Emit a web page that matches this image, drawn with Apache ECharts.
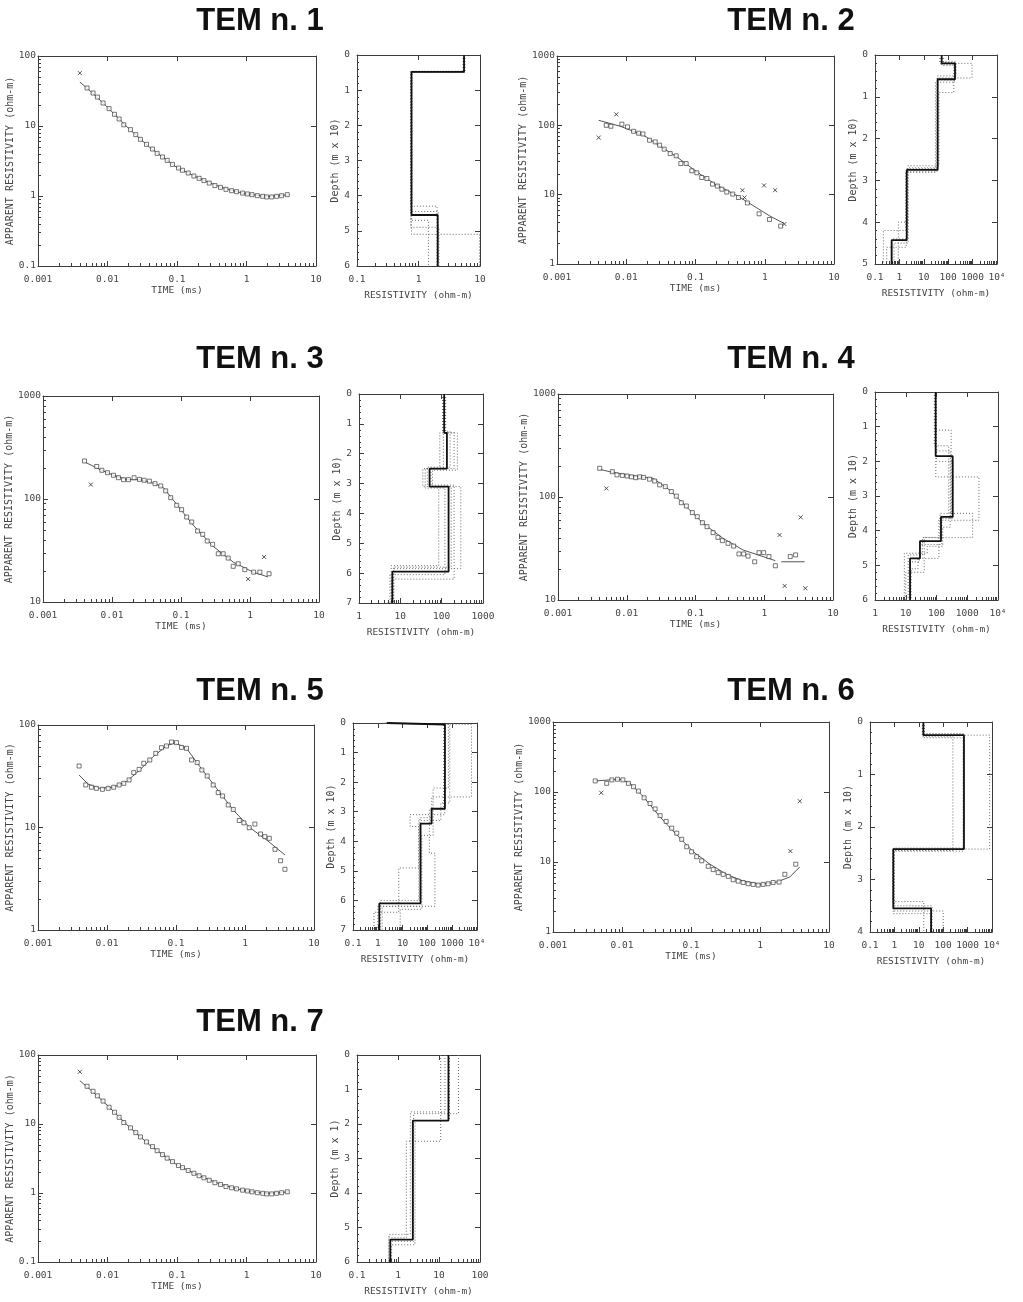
<!DOCTYPE html>
<html><head><meta charset="utf-8">
<script src="https://cdn.jsdelivr.net/npm/echarts@6/dist/echarts.min.js"></script>
<style>html,body{margin:0;padding:0;background:#fff}#c{width:1023px;height:1302px}</style>
</head><body><div id="c"></div>
<script>
// ---------------- DATA ----------------
const titles = ['TEM n. 1','TEM n. 2','TEM n. 3','TEM n. 4','TEM n. 5','TEM n. 6','TEM n. 7'];
const timeTicks = [0.001, 10];
const rhoAxisRanges = [[0.1,100],[1,1000],[10,1000],[10,1000],[1,100],[1,1000],[0.1,100]];
const modelAxisRanges = [[0.1,10],[0.1,10000],[1,1000],[1,10000],[0.1,10000],[0.1,10000],[0.1,100]];
const depthMax = [6,5,7,6,7,4,6];
const depthNames = ['Depth (m x 10)','Depth (m x 10)','Depth (m x 10)','Depth (m x 10)','Depth (m x 10)','Depth (m x 10)','Depth (m x 1)'];

// TEM 1
const t1 = [0.00508,0.0062,0.00716,0.00863,0.01054,0.0126,0.0147,0.01714,0.0214,0.0255,0.0298,0.0364,0.0444,0.0518,0.0618,0.0722,0.0861,0.105,0.120,0.145,0.175,0.208,0.244,0.291,0.351,0.423,0.506,0.610,0.720,0.879,1.03,1.20,1.43,1.71,1.95,2.30,2.71,3.20,3.86];
const r1 = [34.9,29.6,25.9,21.3,17.7,14.7,12.6,10.4,8.87,7.52,6.45,5.47,4.69,4.07,3.61,3.23,2.83,2.51,2.33,2.13,1.93,1.79,1.66,1.53,1.41,1.33,1.245,1.19,1.153,1.10,1.07,1.045,1.01,0.99,0.97,0.97,0.99,1.01,1.045];
const xt1 = [0.004]; const xr1 = [57];
const ct1 = [0.004,0.006,0.01,0.02,0.04,0.07,0.1,0.2,0.4,0.7,1,2,4];
const cr1 = [42.5,30,18.5,9.3,5.0,3.3,2.55,1.82,1.37,1.16,1.07,0.98,1.04];
const best1Rho = [5.5,0.77,2.05]; const best1Dep = [0.48,4.55];
const eq1 = [[[5.4,0.75,2.0],[0.46,4.3]],[[5.7,0.78,2.1],[0.5,4.45]],[[5.5,0.76,1.45],[0.49,4.7]],[[5.5,0.77,9.8],[0.48,5.1]],[[5.3,0.74,2.15],[0.47,4.9]]];

// TEM 2
const t2 = [0.00515,0.00601,0.00865,0.01044,0.01276,0.0151,0.0174,0.0217,0.0262,0.0303,0.0353,0.0431,0.0526,0.0614,0.0733,0.0885,0.1045,0.123,0.146,0.176,0.207,0.240,0.283,0.345,0.417,0.562,0.828,1.17,1.70];
const r2 = [100,97,104,95,82,77,75,61,57.7,51.7,45.3,39.2,36.3,28.1,28.1,22.1,20.7,17.7,17.1,14.2,13.3,12.0,10.9,10.2,9.1,7.6,5.3,4.39,3.52];
const xt2 = [0.004,0.00718,0.476,0.51,0.977,1.41,1.92]; const xr2 = [66.6,144,11.6,9.1,13.6,11.6,3.77];
const ct2 = [0.004,0.0082,0.0178,0.0309,0.0538,0.1045,0.203,0.394,0.726,1.19,1.90];
const cr2 = [118,97,72,50,35,21.3,13.7,9.75,6.68,4.91,3.85];
const best2Rho = [54,190,37,2.0,0.48]; const best2Dep = [0.2,0.58,2.75,4.43];
const eq2 = [[[60,200,38,2.1,0.5],[0.15,0.6,2.7,4.4]],[[45,950,35,1.9,0.3],[0.2,0.55,2.8,4.6]],[[55,170,42,2.2,0.9],[0.25,0.9,2.65,4.0]],[[50,180,30,1.8,0.22],[0.22,0.65,2.8,4.2]],[[65,210,36,2.3,0.6],[0.18,0.5,2.72,4.5]]];

// TEM 3
const t3 = [0.004,0.006,0.00713,0.0086,0.0105,0.0124,0.0147,0.0173,0.0209,0.025,0.0292,0.0348,0.042,0.0508,0.060,0.0709,0.0866,0.102,0.121,0.143,0.174,0.206,0.240,0.287,0.347,0.409,0.483,0.571,0.674,0.841,1.13,1.39,1.89];
const r3 = [234,207,190,180,170,161,154,154,161,155,152,149,141,134,120,103,86.9,78.8,66.8,59.8,48.9,45.4,39.1,36.3,29.4,29.4,26.7,22.2,23.5,20.6,19.5,19.5,18.8];
const xt3 = [0.00494,0.94,1.60]; const xr3 = [138,16.7,27.4];
const ct3 = [0.004,0.00675,0.0105,0.0164,0.0255,0.042,0.0555,0.0866,0.151,0.293,0.571,1.11,1.83];
const cr3 = [229,193,170,154,154,141,129,88.7,55.5,34.7,24.4,19.5,17.5];
const best3Rho = [115,134,51,147,6.4]; const best3Dep = [1.3,2.5,3.1,5.95];
const eq3 = [[[110,90,35,85,6.0],[1.3,2.5,3.1,5.75]],[[120,240,60,290,7.0],[1.3,2.55,3.1,5.85]],[[105,160,45,200,6.2],[1.25,2.45,3.05,6.2]],[[125,110,40,120,5.6],[1.35,2.5,3.15,6.05]],[[115,200,55,170,6.8],[1.3,2.5,3.1,5.8]]];

// TEM 4
const t4 = [0.00404,0.00617,0.0072,0.00863,0.0101,0.0117,0.0135,0.0154,0.0176,0.0215,0.0255,0.0301,0.0364,0.0445,0.0526,0.0622,0.0736,0.090,0.106,0.126,0.147,0.180,0.212,0.246,0.297,0.359,0.429,0.502,0.581,0.726,0.839,0.982,1.17,1.45,2.39,2.86];
const r4 = [190,176,164,162,160,157,154,157,155,149,143,131,126,113,102,88,81.8,70.5,64.4,56.3,51.5,45.1,40.6,37.7,35.5,33.4,28.0,28.0,26.7,23.5,28.8,28.8,26.4,21.5,26.4,27.4];
const xt4 = [0.00505,1.67,1.98,3.39,3.96]; const xr4 = [121,42.8,13.7,63.5,13.0];
const ct4 = [0.004,0.00565,0.00883,0.0154,0.0241,0.042,0.0736,0.129,0.251,0.491,0.959,1.45];
const cr4 = [186,176,166,157,152,117,80.5,55.5,39.7,30.6,26.4,24.1];
const ct4b = [1.77,3.87]; const cr4b = [23.5,23.5];
const best4Rho = [94,336,140,29,13.8]; const best4Dep = [1.85,3.6,4.3,4.8];
const eq4 = [[[90,300,130,35,12],[1.1,3.5,4.2,4.7]],[[95,2400,150,28,14],[2.45,3.7,4.4,4.9]],[[85,250,1500,40,10],[1.55,3.5,4.2,5.2]],[[100,350,120,25,15],[2.0,3.65,4.8,5.1]],[[92,280,160,50,9],[1.7,3.9,4.45,4.65]]];

// TEM 5
const t5 = [0.00394,0.00492,0.00594,0.00702,0.00857,0.0104,0.0125,0.015,0.0175,0.0209,0.0244,0.0292,0.0341,0.0417,0.0509,0.0616,0.0728,0.0861,0.1017,0.120,0.142,0.168,0.203,0.237,0.283,0.346,0.409,0.473,0.572,0.676,0.826,0.965,1.15,1.39,1.68,1.94,2.25,2.72,3.28,3.79];
const r5 = [39.8,26.0,24.7,24.1,23.6,24.1,24.7,26.0,27.0,29.1,34.3,36.9,42.3,45.6,52.9,60.1,62.4,68.2,67.3,60.5,59.2,45.6,43.0,36.4,31.8,26.0,21.9,20.3,16.6,15.0,11.7,11.1,9.95,10.8,8.64,8.14,7.84,6.12,4.74,3.91];
const xt5 = []; const xr5 = [];
const ct5 = [0.00394,0.00532,0.00786,0.0122,0.0191,0.0299,0.0466,0.0728,0.0961,0.142,0.222,0.387,0.676,1.18,2.06,3.79];
const cr5 = [32.5,26.5,24.1,24.7,28.0,36.4,49.1,62.4,67.3,59.2,39.2,24.1,14.8,9.95,7.55,5.40];
const best5Rho = [2.3,510,148,53,1.15]; const best5Dep = [0.05,2.9,3.4,6.1];
const eq5 = [[[3,6000,150,50,1.0],[0.05,2.5,3.2,6.2]],[[1.5,800,350,45,1.3],[0.04,2.7,3.3,6.0]],[[2,500,20,45,7,0.7],[0.06,3.1,3.5,4.9,6.4]],[[2.5,700,170,60,8],[0.05,2.2,3.8,6.3]],[[1.8,450,120,200,1.5],[0.05,2.9,4.4,6.2]]];

// TEM 6
const t6 = [0.00409,0.0060,0.00713,0.0086,0.0103,0.0124,0.0147,0.0173,0.0209,0.0255,0.0302,0.0357,0.0436,0.0525,0.0621,0.0733,0.0866,0.102,0.121,0.143,0.178,0.210,0.248,0.293,0.347,0.409,0.483,0.571,0.674,0.797,0.94,1.11,1.31,1.55,1.89,2.29,3.30];
const r6 = [144,133,149,152,149,133,119,103,82.6,68.4,57.3,45.9,38.0,30.4,25.8,21.1,16.5,14.0,11.9,10.4,8.69,7.78,7.05,6.67,6.23,5.58,5.33,5.10,4.89,4.79,4.68,4.79,4.89,5.10,5.17,6.67,9.30];
const xt6 = [0.0050,2.76,3.77]; const xr6 = [97.5,14.3,73.9];
const ct6 = [0.00409,0.00675,0.0094,0.0131,0.0205,0.0357,0.0621,0.108,0.188,0.328,0.571,0.995,1.73,2.70,3.77];
const cr6 = [144,149,152,133,85.3,43.9,24.4,14.0,9.30,6.67,5.33,4.79,5.17,6.10,8.51];
const best6Rho = [15.4,710,0.9,32]; const best6Dep = [0.25,2.42,3.55];
const eq6 = [[[16,8000,0.95,100],[0.25,2.42,3.6]],[[14,250,0.85,16],[0.28,2.45,3.42]],[[15,700,0.9,30],[0.22,2.4,3.65]],[[17,650,1.0,35],[0.3,2.46,3.5]]];

// TEM 7
const t7 = [0.00508,0.0062,0.00716,0.00863,0.01054,0.0126,0.0147,0.01714,0.0214,0.0255,0.0298,0.0364,0.0444,0.0518,0.0618,0.0722,0.0861,0.105,0.120,0.145,0.175,0.208,0.244,0.291,0.351,0.423,0.506,0.610,0.720,0.879,1.03,1.20,1.43,1.71,1.95,2.30,2.71,3.20,3.86];
const r7 = [35.2,29.8,25.6,21.5,17.5,14.8,12.5,10.5,8.8,7.5,6.5,5.5,4.7,4.1,3.6,3.2,2.85,2.5,2.33,2.12,1.93,1.78,1.66,1.53,1.41,1.33,1.24,1.19,1.15,1.10,1.07,1.04,1.01,0.99,0.97,0.97,0.99,1.01,1.04];
const xt7 = [0.004]; const xr7 = [57];
const ct7 = [0.004,0.006,0.01,0.02,0.04,0.07,0.1,0.2,0.4,0.7,1,2,4];
const cr7 = [42.5,30,18.5,9.3,5.0,3.3,2.55,1.82,1.37,1.16,1.07,0.98,1.04];
const best7Rho = [17,2.3,0.65]; const best7Dep = [1.9,5.35];
const eq7 = [[[14,2.0,0.6],[1.65,5.2]],[[30,2.4,0.65],[1.7,5.4]],[[11,1.6,0.6],[2.5,5.3]],[[18,2.6,0.7],[1.9,5.5]]];

// ---------------- LAYOUT ----------------
const boxL = [[38,56,278,210],[557,56,277,208],[43,396,276,206],[558,394,275,206],[38,725,276,205],[553,722,276,210],[38,1055,278,207]];
const boxR = [[357,55,123,211],[875,55,122,209],[359,394,124,209],[875,392,123,208],[353,723,124,207],[870,722,122,210],[357,1055,123,207]];
const titlePos = [[260,21],[791,21],[260,359],[791,359],[260,691],[791,691],[260,1022]];

const FONT = '"DejaVu Sans Mono", monospace';
const AX = '#3c3c3c', LBL = '#454545', INK = '#2a2a2a';

const option = {animation:false, backgroundColor:'#ffffff', grid:[], xAxis:[], yAxis:[], series:[], graphic:[]};

function minorVals(min,max){
  const out=[];
  for(let e=Math.round(Math.log10(min)); e<Math.round(Math.log10(max)); e++){
    for(let m=2;m<=9;m++) out.push(+(m*Math.pow(10,e)).toPrecision(3));
  }
  return out;
}
function fmtLog(v){
  if (v>=9999) return '10\u2074';
  if (v<1) return String(+(+v).toPrecision(1));
  return String(Math.round(v));
}
function addGrid(b){ option.grid.push({left:b[0], top:b[1], width:b[2], height:b[3], containLabel:false, outerBoundsMode:'none'}); return option.grid.length-1; }
function ax(gi,type,min,max,pos,extra){
  const a = {type, gridIndex:gi, min, max, position:pos,
    axisLine:{show:true,onZero:false,lineStyle:{color:AX,width:1}},
    axisTick:{show:true,inside:true,length:5,lineStyle:{color:AX,width:1}},
    axisLabel:{show:false}, splitLine:{show:false}, minorTick:{show:false}, minorSplitLine:{show:false}};
  if (type==='log') a.logBase=10;
  return Object.assign(a, extra||{});
}
function lab(margin, fmt){ return {show:true, fontFamily:FONT, fontSize:9.5, color:LBL, margin, formatter:fmt, showMinLabel:true, showMaxLabel:true, hideOverlap:false}; }
const nameStyle = {fontFamily:FONT, fontSize:9.5, color:LBL};
const nameStyleY = {fontFamily:FONT, fontSize:10, color:LBL};
const minorTickAx = (vals)=>({axisLine:{show:false,onZero:false}, axisTick:{show:true,inside:true,length:3,lineStyle:{color:AX,width:1},customValues:vals}});

function leftPanel(k, t, r, xt, xr, ct, cr, extraCurves){
  const gi = addGrid(boxL[k]);
  const yr = rhoAxisRanges[k];
  const xi = option.xAxis.length;
  option.xAxis.push(ax(gi,'log',timeTicks[0],timeTicks[1],'bottom',{name:'TIME (ms)',nameLocation:'middle',nameGap:19,nameTextStyle:nameStyle,axisLabel:lab(9,fmtLog)}));
  option.xAxis.push(ax(gi,'log',timeTicks[0],timeTicks[1],'top'));
  option.xAxis.push(ax(gi,'log',timeTicks[0],timeTicks[1],'bottom',minorTickAx(minorVals(timeTicks[0],timeTicks[1]))));
  const yi = option.yAxis.length;
  option.yAxis.push(ax(gi,'log',yr[0],yr[1],'left',{name:'APPARENT RESISTIVITY (ohm-m)',nameLocation:'middle',nameGap:20,nameTextStyle:nameStyleY,axisLabel:lab(2,fmtLog)}));
  option.yAxis.push(ax(gi,'log',yr[0],yr[1],'right'));
  option.yAxis.push(ax(gi,'log',yr[0],yr[1],'left',minorTickAx(minorVals(yr[0],yr[1]))));
  const curves = [[ct,cr]].concat(extraCurves||[]);
  curves.forEach(c=>{
    option.series.push({type:'line', xAxisIndex:xi, yAxisIndex:yi, data:c[0].map((v,i)=>[v,c[1][i]]), showSymbol:false, symbol:'none', silent:true, lineStyle:{color:INK,width:0.8}, z:2});
  });
  option.series.push({type:'scatter', xAxisIndex:xi, yAxisIndex:yi, data:t.map((v,i)=>[v,r[i]]), symbol:'rect', symbolSize:4, silent:true, itemStyle:{color:'#ffffff',borderColor:INK,borderWidth:0.8}, z:3});
  if (xt.length) option.series.push({type:'scatter', xAxisIndex:xi, yAxisIndex:yi, data:xt.map((v,i)=>[v,xr[i]]), symbol:'path://M0,0L10,10M10,0L0,10', symbolSize:4, silent:true, itemStyle:{color:'none',borderColor:INK,borderWidth:1}, z:3});
}
function steps(rho, dep, maxD){
  const pts=[]; let top=0;
  rho.forEach((v,i)=>{ const bot = i<dep.length ? dep[i] : maxD; pts.push([v,top],[v,bot]); top=bot; });
  return pts;
}
function rightPanel(k, bestRho, bestDep, eqs){
  const gi = addGrid(boxR[k]);
  const xr = modelAxisRanges[k], dm = depthMax[k];
  const xi = option.xAxis.length;
  option.xAxis.push(ax(gi,'log',xr[0],xr[1],'bottom',{name:'RESISTIVITY (ohm-m)',nameLocation:'middle',nameGap:25,nameTextStyle:nameStyle,axisLabel:lab(9,fmtLog)}));
  option.xAxis.push(ax(gi,'log',xr[0],xr[1],'top'));
  option.xAxis.push(ax(gi,'log',xr[0],xr[1],'bottom',minorTickAx(minorVals(xr[0],xr[1]))));
  const yi = option.yAxis.length;
  option.yAxis.push(ax(gi,'value',0,dm,'left',{inverse:true,interval:1,name:depthNames[k],nameLocation:'middle',nameGap:15,nameTextStyle:nameStyleY,axisLabel:lab(7),minorTick:{show:true,splitNumber:5,length:2,lineStyle:{color:AX}}}));
  option.yAxis.push(ax(gi,'value',0,dm,'right',{inverse:true,interval:1}));
  eqs.forEach(m=>{
    option.series.push({type:'line', xAxisIndex:xi, yAxisIndex:yi, data:steps(m[0],m[1],dm), showSymbol:false, symbol:'none', silent:true, lineStyle:{color:'#6a6a6a',width:1,type:[1,2]}, z:2});
  });
  option.series.push({type:'line', xAxisIndex:xi, yAxisIndex:yi, data:steps(bestRho,bestDep,dm), showSymbol:false, symbol:'none', silent:true, lineStyle:{color:'#111',width:1.8}, z:3});
}

leftPanel(0,t1,r1,xt1,xr1,ct1,cr1); rightPanel(0,best1Rho,best1Dep,eq1);
leftPanel(1,t2,r2,xt2,xr2,ct2,cr2); rightPanel(1,best2Rho,best2Dep,eq2);
leftPanel(2,t3,r3,xt3,xr3,ct3,cr3); rightPanel(2,best3Rho,best3Dep,eq3);
leftPanel(3,t4,r4,xt4,xr4,ct4,cr4,[[ct4b,cr4b]]); rightPanel(3,best4Rho,best4Dep,eq4);
leftPanel(4,t5,r5,xt5,xr5,ct5,cr5); rightPanel(4,best5Rho,best5Dep,eq5);
leftPanel(5,t6,r6,xt6,xr6,ct6,cr6); rightPanel(5,best6Rho,best6Dep,eq6);
leftPanel(6,t7,r7,xt7,xr7,ct7,cr7); rightPanel(6,best7Rho,best7Dep,eq7);

option.graphic = titles.map((s,i)=>({type:'text', x:titlePos[i][0], y:titlePos[i][1], silent:true,
  style:{text:s, font:'bold 31px "Liberation Sans", Arial, sans-serif', fill:'#111', align:'center', verticalAlign:'middle'}}));

const chart = echarts.init(document.getElementById('c'), null, {renderer:'canvas'});
chart.setOption(option);
</script>
</body></html>
